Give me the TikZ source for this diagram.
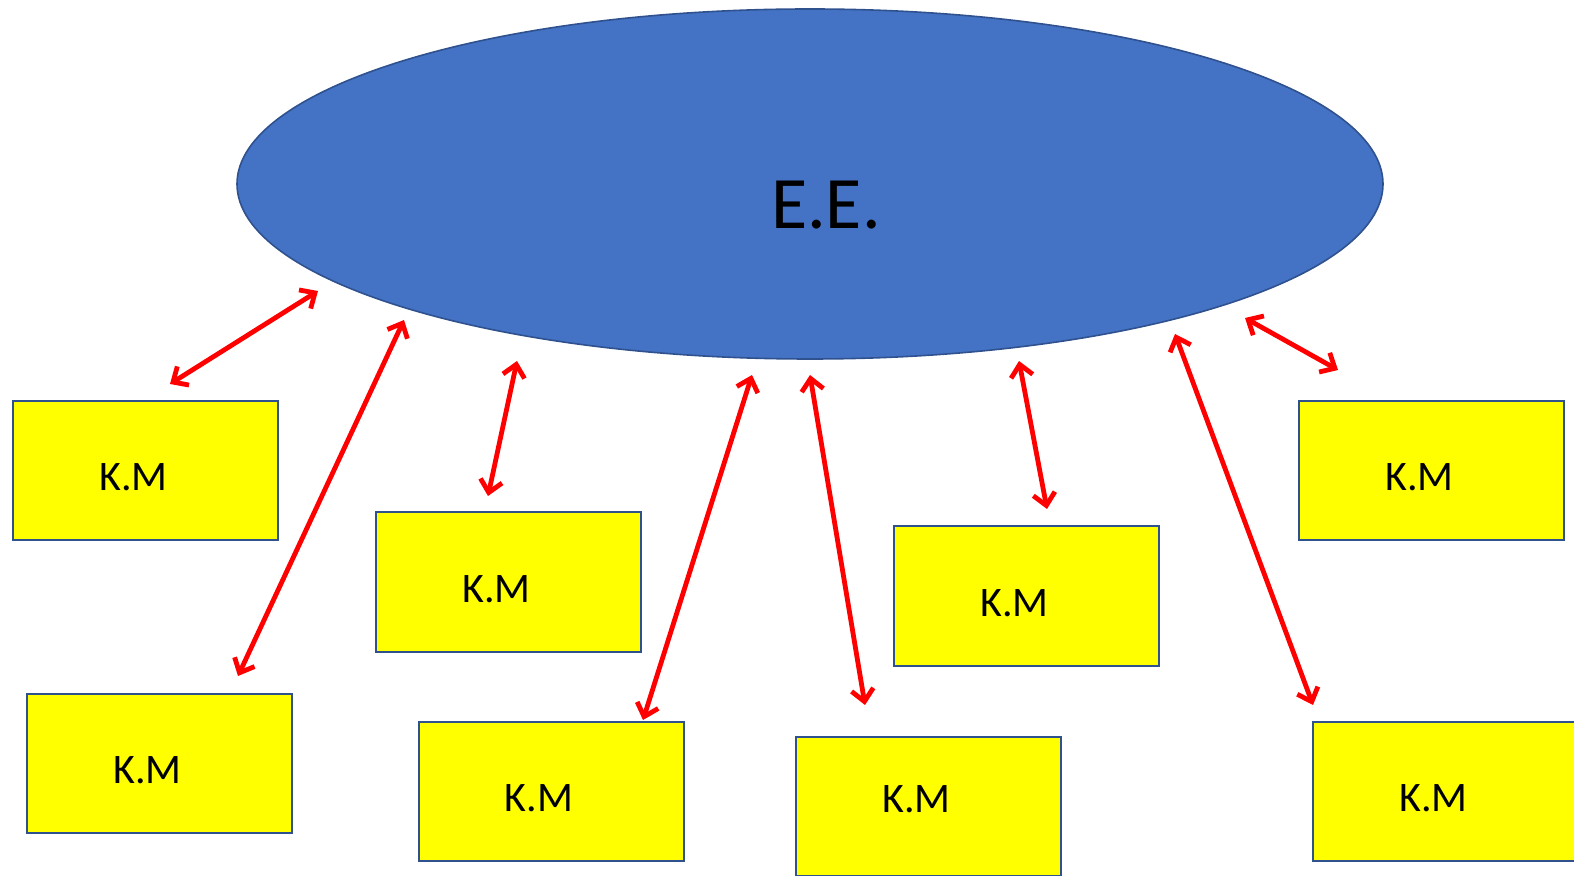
\documentclass[tikz,border=0pt]{standalone}
\usepackage{fontspec}
\setmainfont{Carlito}
\usetikzlibrary{shapes.geometric, arrows.meta}
\definecolor{eeblue}{HTML}{4472C4}
\definecolor{edgeblue}{HTML}{2F528F}
\definecolor{kmyellow}{HTML}{FFFF00}
\definecolor{arrowred}{HTML}{FF0000}

\begin{document}
\begin{tikzpicture}[
            x=0.5pt, y=-0.5pt,
            kmbox/.style={rectangle, draw=edgeblue, line width=1pt, fill=kmyellow, minimum width=132.5pt, minimum height=69.5pt, inner sep=0pt, outer sep=0pt,
                label={[xshift=-6pt, yshift=-3.5pt, font=\fontsize{21}{25}\selectfont]center:K.M}},
            eeshape/.style={ellipse, draw=edgeblue, line width=0.8pt, fill=eeblue, minimum width=573pt, minimum height=175pt, inner sep=0pt},
            arrow/.style={{Straight Barb[length=6pt, width=11pt]}-{Straight Barb[length=6pt, width=11pt]}, arrowred, line width=2.4pt, line cap=round}
        ]
        \useasboundingbox (0,0) rectangle (1574,876);
        \clip (0,0) rectangle (1574,876);

        % Define the central ellipse and the boxes
        \node[eeshape, label={[xshift=8pt, yshift=-10.5pt, font=\fontsize{37}{44}\selectfont]center:E.E.}] (ee) at (810,184) {};
        \node[kmbox] (km1) at (145.5,470.5) {};
        \node[kmbox] (km2) at (508.5,582) {};
        \node[kmbox] (km3) at (159.5,763.5) {};
        \node[kmbox] (km4) at (551,791.5) {};
        \node[rectangle, draw=edgeblue, line width=1pt, fill=kmyellow, minimum width=132.5pt, minimum height=69.5pt, inner sep=0pt, outer sep=0pt,
            label={[xshift=-6pt, yshift=3.5pt, font=\fontsize{21}{25}\selectfont]center:K.M}] (km5) at (928.5,806) {};
        \node[kmbox] (km6) at (1026.5,596) {};
        \node[kmbox] (km7) at (1431.5,470.5) {};
        \node[kmbox] (km8) at (1445.5,791.5) {};

        % Arrow ends
        \coordinate (e1) at (318,291);  \coordinate (k1) at (170,384);
        \coordinate (e2) at (404,320);  \coordinate (k2) at (238,676);
        \coordinate (e3) at (517,361);  \coordinate (k3) at (488,496);
        \coordinate (e4) at (752,375);  \coordinate (k4) at (643,720);
        \coordinate (e5) at (810,375);  \coordinate (k5) at (865,705);
        \coordinate (e6) at (1019,361); \coordinate (k6) at (1047,509);
        \coordinate (e7) at (1175,334); \coordinate (k7) at (1313,705);
        \coordinate (e8) at (1245,318); \coordinate (k8) at (1338,370);

        % Draw the arrows
        \draw[arrow] (k1) -- (e1);
        \draw[arrow] (k2) -- (e2);
        \draw[arrow] (k3) -- (e3);
        \draw[arrow] (k4) -- (e4);
        \draw[arrow] (k5) -- (e5);
        \draw[arrow] (k6) -- (e6);
        \draw[arrow] (k7) -- (e7);
        \draw[arrow] (k8) -- (e8);
    \end{tikzpicture}
\end{document}
